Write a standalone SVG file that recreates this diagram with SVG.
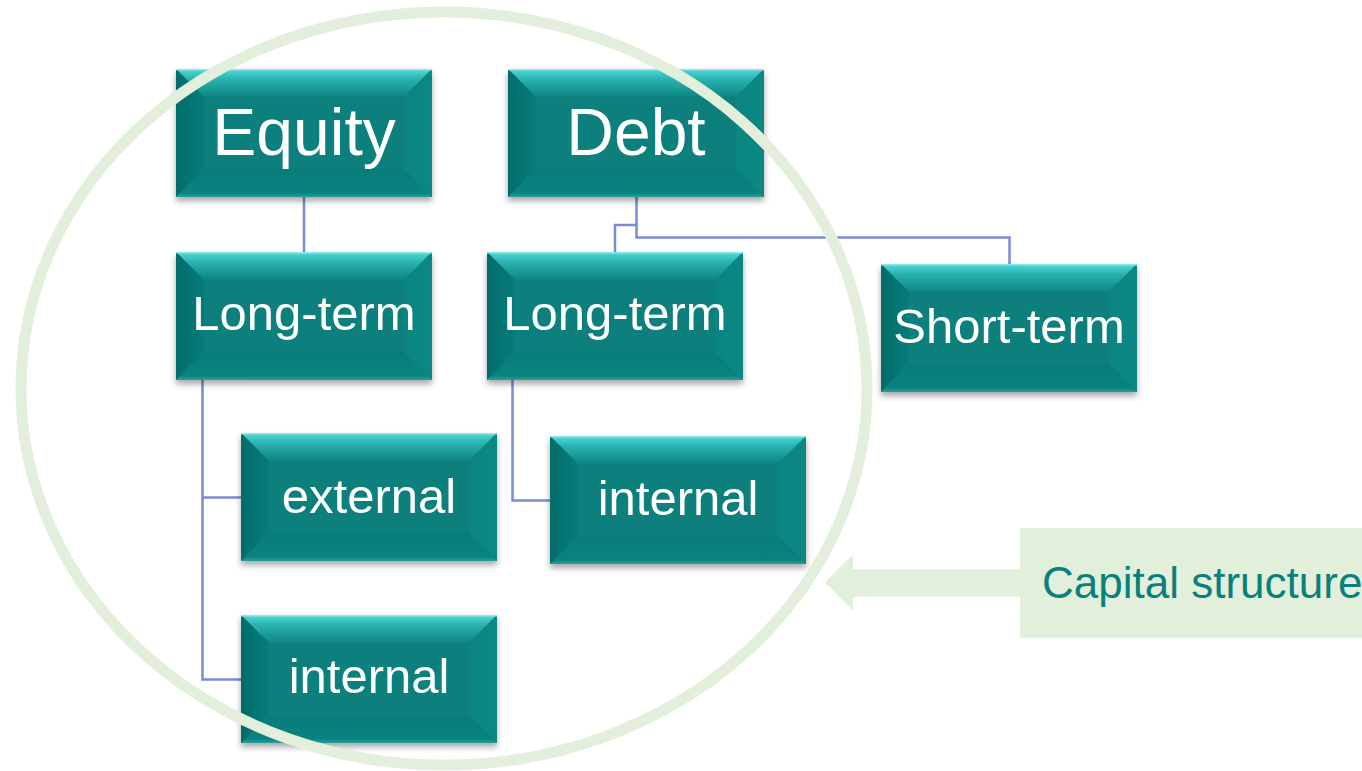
<svg xmlns="http://www.w3.org/2000/svg" xmlns:xlink="http://www.w3.org/1999/xlink" width="1362" height="771" viewBox="0 0 1362 771">
  <style>
    .lbl { font-family: "Liberation Sans", Arial, sans-serif; fill: #ffffff; text-anchor: middle; }
    .big { font-size: 66px; }
    .small { font-size: 49px; }
    .conn { fill: none; stroke: #7B8CD4; stroke-width: 2.5; }
    .cap { font-family: "Liberation Sans", Arial, sans-serif; font-size: 44px; fill: #08807C; }
  </style>
  <defs>
    <linearGradient id="gTop" x1="0" y1="0" x2="0" y2="1">
      <stop offset="0" stop-color="#4FDCDA"/>
      <stop offset="0.35" stop-color="#2BB3B1"/>
      <stop offset="1" stop-color="#0C8683"/>
    </linearGradient>
    <linearGradient id="gLeft" x1="0" y1="0" x2="1" y2="0">
      <stop offset="0" stop-color="#026D6B"/>
      <stop offset="1" stop-color="#077C79"/>
    </linearGradient>
    <linearGradient id="gRight" x1="0" y1="0" x2="1" y2="0">
      <stop offset="0" stop-color="#0A8582"/>
      <stop offset="1" stop-color="#0B8784"/>
    </linearGradient>
    <linearGradient id="gBot" x1="0" y1="0" x2="0" y2="1">
      <stop offset="0" stop-color="#077D7A"/>
      <stop offset="0.85" stop-color="#0A827F"/>
      <stop offset="1" stop-color="#2A9E9B"/>
    </linearGradient>
    <filter id="shadow" x="-10%" y="-10%" width="120%" height="130%">
      <feDropShadow dx="0" dy="4" stdDeviation="3" flood-color="#000000" flood-opacity="0.35"/>
    </filter>
    <g id="box">
      <rect x="0" y="0" width="256" height="128" fill="#077F7C" filter="url(#shadow)"/>
      <polygon points="0,0 256,0 228,28 28,28" fill="url(#gTop)"/>
      <polygon points="0,0 28,28 28,100 0,128" fill="url(#gLeft)"/>
      <polygon points="256,0 256,128 228,100 228,28" fill="url(#gRight)"/>
      <polygon points="0,128 28,100 228,100 256,128" fill="url(#gBot)"/>
      <rect x="0" y="0" width="256" height="1.5" fill="#8FE6E4"/>
    </g>
  </defs>

  <rect x="0" y="0" width="1362" height="771" fill="#ffffff"/>

  <g id="connectors">
    <path class="conn" d="M304,197 V252"/>
    <path class="conn" d="M636.5,197 V237.5 H1009.5 V264"/>
    <path class="conn" d="M636.5,225 H615 V252"/>
    <path class="conn" d="M202.5,379 V679.5 H241"/>
    <path class="conn" d="M202.5,497.5 H241"/>
    <path class="conn" d="M512.5,379 V500.5 H550"/>
  </g>

  <g id="node-equity">
    <use xlink:href="#box" href="#box" x="176" y="69"/>
    <text class="lbl big" x="304" y="155">Equity</text>
  </g>
  <g id="node-debt">
    <use xlink:href="#box" href="#box" x="508" y="69"/>
    <text class="lbl big" x="636" y="155">Debt</text>
  </g>
  <g id="node-equity-longterm">
    <use xlink:href="#box" href="#box" x="176" y="252"/>
    <text class="lbl small" x="304" y="330">Long-term</text>
  </g>
  <g id="node-debt-longterm">
    <use xlink:href="#box" href="#box" x="487" y="252"/>
    <text class="lbl small" x="615" y="330">Long-term</text>
  </g>
  <g id="node-debt-shortterm">
    <use xlink:href="#box" href="#box" x="881" y="264"/>
    <text class="lbl small" x="1009" y="343">Short-term</text>
  </g>
  <g id="node-equity-external">
    <use xlink:href="#box" href="#box" x="241" y="433"/>
    <text class="lbl small" x="369" y="513">external</text>
  </g>
  <g id="node-debt-internal">
    <use xlink:href="#box" href="#box" x="550" y="436"/>
    <text class="lbl small" x="678" y="515">internal</text>
  </g>
  <g id="node-equity-internal">
    <use xlink:href="#box" href="#box" x="241" y="615"/>
    <text class="lbl small" x="369" y="693">internal</text>
  </g>

  <g id="capital-structure-circle">
    <ellipse cx="444" cy="388.5" rx="423" ry="376.5" fill="none" stroke="#E2EFDA" stroke-width="11"/>
  </g>

  <g id="capital-structure-label">
    <polygon points="825,582.5 853,554.5 853,569.3 1021,569.3 1021,596.7 853,596.7 853,611" fill="#E2EFDA"/>
    <rect x="1020" y="528" width="342" height="110" fill="#E2EFDA"/>
    <text class="cap" x="1042" y="598">Capital structure</text>
  </g>
</svg>
